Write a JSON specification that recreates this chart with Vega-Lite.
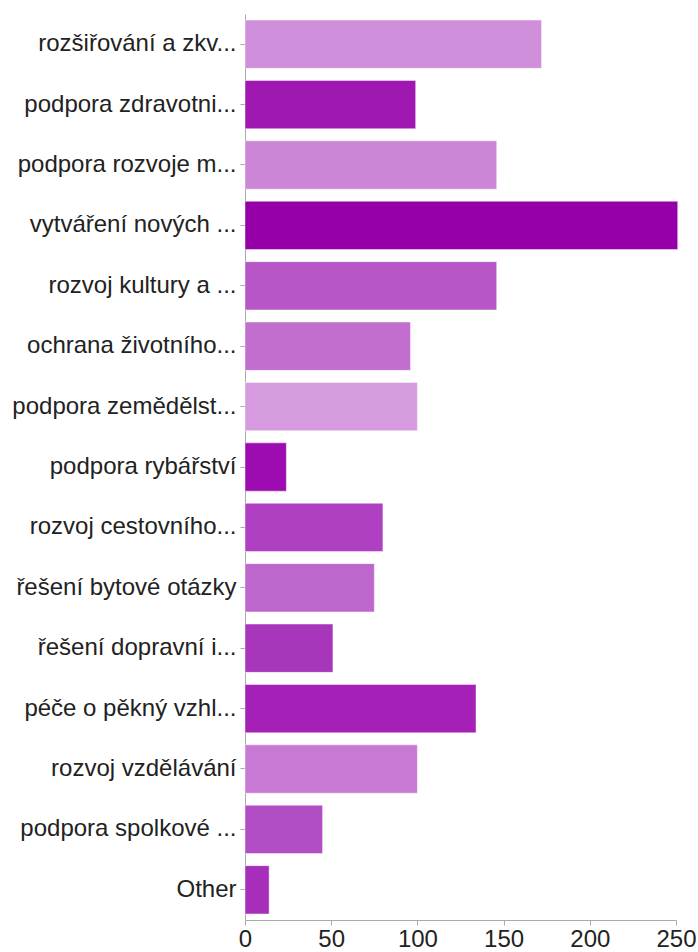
{
  "$schema": "https://vega.github.io/schema/vega-lite/v6.json",
  "autosize": {"type": "none"},
  "width": 431,
  "height": 906,
  "padding": {"left": 245, "top": 14, "right": 22, "bottom": 32},
  "background": "white",
  "config": {"view": {"stroke": null}, "font": "Liberation Sans"},
  "data": {"values": [
    {"kategorie": "rozšiřování a zkv...", "pocet": 172},
    {"kategorie": "podpora zdravotni...", "pocet": 99},
    {"kategorie": "podpora rozvoje m...", "pocet": 146},
    {"kategorie": "vytváření nových ...", "pocet": 251},
    {"kategorie": "rozvoj kultury a ...", "pocet": 146},
    {"kategorie": "ochrana životního...", "pocet": 96},
    {"kategorie": "podpora zemědělst...", "pocet": 100},
    {"kategorie": "podpora rybářství", "pocet": 24},
    {"kategorie": "rozvoj cestovního...", "pocet": 80},
    {"kategorie": "řešení bytové otázky", "pocet": 75},
    {"kategorie": "řešení dopravní i...", "pocet": 51},
    {"kategorie": "péče o pěkný vzhl...", "pocet": 134},
    {"kategorie": "rozvoj vzdělávání", "pocet": 100},
    {"kategorie": "podpora spolkové ...", "pocet": 45},
    {"kategorie": "Other", "pocet": 14}
  ]},
  "mark": {"type": "bar", "stroke": "white", "strokeOpacity": 0.45, "strokeWidth": 1},
  "encoding": {
    "y": {
      "field": "kategorie", "type": "nominal", "sort": null,
      "scale": {"paddingInner": 0.2, "paddingOuter": 0.1},
      "axis": {
        "title": null, "labelFontSize": 24, "labelColor": "#222222", "labelPadding": 4,
        "labelLimit": 260, "domainColor": "#aaaaaa", "tickColor": "#aaaaaa", "tickSize": 5, "grid": false
      }
    },
    "x": {
      "field": "pocet", "type": "quantitative",
      "scale": {"domain": [0, 250], "nice": false, "clamp": false},
      "axis": {
        "title": null, "values": [0, 50, 100, 150, 200, 250], "labelFontSize": 24, "labelColor": "#222222",
        "labelPadding": 2, "domainColor": "#aaaaaa", "tickColor": "#aaaaaa", "tickSize": 5, "grid": false,
        "labelFlush": false
      }
    },
    "color": {
      "field": "kategorie", "type": "nominal", "legend": null,
      "scale": {
        "domain": ["rozšiřování a zkv...", "podpora zdravotni...", "podpora rozvoje m...", "vytváření nových ...", "rozvoj kultury a ...", "ochrana životního...", "podpora zemědělst...", "podpora rybářství", "rozvoj cestovního...", "řešení bytové otázky", "řešení dopravní i...", "péče o pěkný vzhl...", "rozvoj vzdělávání", "podpora spolkové ...", "Other"],
        "range": ["#D08FDA", "#9F18B1", "#CB86D6", "#9500A9", "#B757C7", "#C16ECE", "#D69BDF", "#9D0CB0", "#AF40C1", "#BD66CC", "#A836BB", "#A420B6", "#C67AD3", "#B14EC4", "#A62EBA"]
      }
    }
  }
}
